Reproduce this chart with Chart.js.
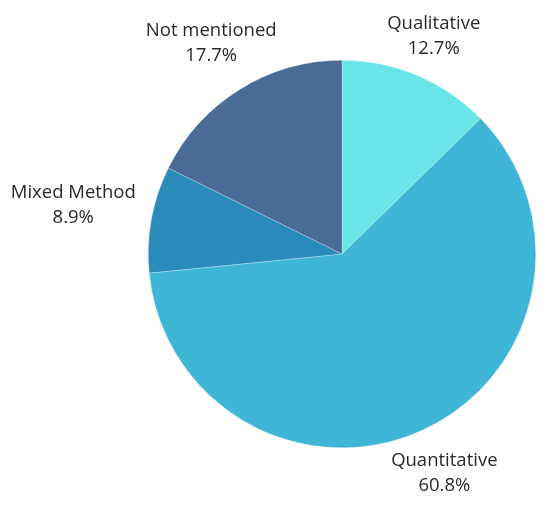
<!DOCTYPE html>
<html>
<head>
  <title>Research method</title>
  <style>
    html, body { margin: 0; padding: 0; background: #fff; }
    #wrap { width: 550px; height: 508px; }
  </style>
</head>
<body>

<div id="wrap">
  <canvas id="methods"></canvas>
</div>

<script src="https://cdn.jsdelivr.net/npm/chart.js@4/dist/chart.umd.min.js"></script>
<script>

const labels = ['Qualitative', 'Quantitative', 'Mixed Method', 'Not mentioned'];
const shares = [12.7, 60.8, 8.9, 17.7];
const colors = ['#69e5e8', '#3fb6d5', '#2b8bba', '#4a6b98'];

// text outside the slices: name on top, percentage underneath
const outsideLabels = {
  id: 'outsideLabels',
  afterDatasetsDraw(chart, args, opts) {
    const ctx = chart.ctx;
    const meta = chart.getDatasetMeta(0);
    ctx.save();
    ctx.font = opts.font;
    ctx.fillStyle = opts.color;
    ctx.textAlign = 'center';
    ctx.textBaseline = 'middle';
    meta.data.forEach((arc, i) => {
      const mid = (arc.startAngle + arc.endAngle) / 2;
      const r = arc.outerRadius * opts.distance[i];
      const x = arc.x + Math.cos(mid) * r;
      const y = arc.y + Math.sin(mid) * r;
      ctx.fillText(labels[i], x, y - opts.lineGap / 2);
      ctx.fillText(shares[i].toFixed(1) + '%', x, y + opts.lineGap / 2);
    });
    ctx.restore();
  }
};

new Chart(document.getElementById('methods'), {
  type: 'pie',
  data: {
    labels: labels,
    datasets: [{
      data: shares,
      backgroundColor: colors,
      borderColor: 'rgba(255,255,255,0.5)',
      borderWidth: 0.5,
    }]
  },
  options: {
    responsive: true,
    maintainAspectRatio: false,
    animation: false,
    layout: { padding: { left: 148, right: 14, top: 60, bottom: 60 } },
    plugins: {
      legend: { display: false },
      tooltip: { enabled: false },
      outsideLabels: {
        font: '18.5px "Open Sans"',
        color: '#2a2a2a',
        lineGap: 25,
        distance: [1.22, 1.25, 1.41, 1.28],
      }
    }
  },
  plugins: [outsideLabels]
});

</script>

</body>
</html>
